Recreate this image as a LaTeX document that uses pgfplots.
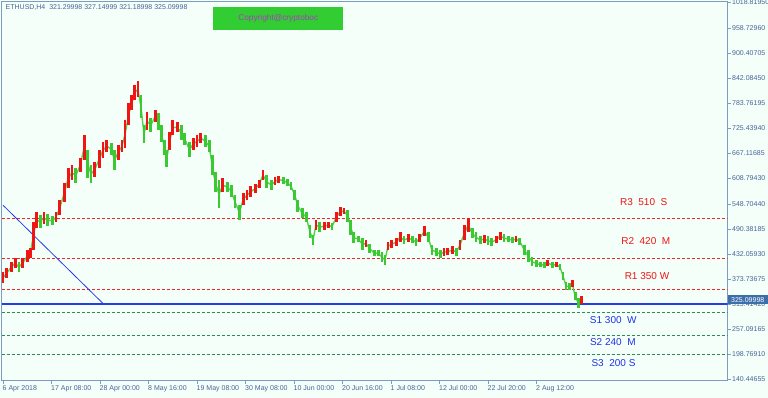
\documentclass[border=0pt]{standalone}
\usepackage{fontspec}
\setmainfont{Liberation Sans}
\usepackage{pgfplots}
\pgfplotsset{compat=1.18}
\usepackage{pgfplotstable}
\definecolor{bgc}{RGB}{245,255,250}
\definecolor{frame}{RGB}{125,155,195}
\definecolor{lbl}{RGB}{70,100,150}
\definecolor{cred}{RGB}{240,20,20}
\definecolor{cgreen}{RGB}{60,200,50}
\definecolor{rline}{RGB}{235,40,40}
\definecolor{gline}{RGB}{46,139,87}
\definecolor{bline}{RGB}{40,60,230}
\definecolor{boxg}{RGB}{50,205,50}
\definecolor{copyc}{RGB}{170,60,190}
\definecolor{pricebox}{RGB}{60,110,170}
\definecolor{rtxt}{RGB}{240,20,20}
\definecolor{stxt}{RGB}{30,50,230}

\pgfplotstableread{
i h l d
0 390.2 364.6 1
5 399.5 376.2 1
11 413.5 390.2 1
16 422.8 399.5 1
21 413.5 390.2 0
26 422.8 399.5 1
32 441.4 413.5 1
36 446.1 422.8 1
40 506.6 441.4 1
44 529.9 492.6 1
49 522.9 492.6 0
54 529.9 502.0 1
59 525.3 497.3 0
65 520.6 499.6 0
70 529.9 506.6 1
75 557.9 522.9 1
81 597.4 553.2 1
86 632.4 585.8 1
91 639.4 604.4 1
96 632.4 597.4 0
102 655.6 623.0 1
107 709.2 651.0 1
112 674.3 609.1 0
116 639.4 597.4 0
121 646.3 611.4 1
127 674.3 632.4 1
132 692.9 655.6 1
137 697.6 669.6 1
143 690.6 662.7 0
147 674.3 627.7 0
152 686.0 651.0 1
157 697.6 669.6 1
161 744.1 678.9 1
166 783.6 732.5 1
170 802.3 767.4 1
174 825.6 790.7 1
178 834.9 797.6 1
182 802.3 748.7 0
186 732.5 690.6 0
190 762.7 720.9 1
195 748.7 716.2 0
201 767.4 739.4 1
205 760.4 720.9 0
209 732.5 692.9 0
213 697.6 662.7 0
216 674.3 634.7 0
220 716.2 674.3 1
224 744.1 709.2 1
230 739.4 716.2 1
235 732.5 697.6 0
240 713.8 686.0 0
246 692.9 657.9 0
251 702.2 674.3 1
256 709.2 681.2 1
261 713.8 690.6 1
267 709.2 681.2 0
272 697.6 669.6 0
276 662.7 616.0 0
280 623.0 576.5 0
285 604.4 539.2 0
290 609.1 576.5 1
296 599.8 576.5 0
301 592.8 564.8 0
306 569.5 539.2 0
312 546.2 511.3 0
317 574.1 546.2 1
322 581.1 557.9 1
327 590.4 564.8 1
333 595.1 574.1 1
338 604.4 585.8 1
343 627.7 604.4 1
348 616.0 585.8 0
354 604.4 581.1 0
359 611.4 592.8 1
364 613.7 597.4 1
370 611.4 595.1 0
375 606.7 590.4 0
380 599.8 581.1 0
385 581.1 557.9 0
389 557.9 529.9 0
395 539.2 515.9 0
400 529.9 506.6 0
405 499.6 469.4 0
409 476.4 453.1 0
413 511.3 488.0 1
418 506.6 483.3 0
424 506.6 488.0 1
429 506.6 492.6 1
434 504.3 488.0 0
440 529.9 506.6 1
445 541.6 520.6 1
450 539.2 525.3 1
455 534.6 506.6 0
459 511.3 476.4 0
463 483.3 457.7 0
469 474.0 460.0 0
474 469.4 441.4 0
479 464.7 448.4 1
484 455.4 434.4 0
490 441.4 427.5 0
495 441.4 427.5 0
500 436.7 413.5 0
504 429.8 406.5 0
508 460.0 441.4 1
513 464.7 446.1 1
519 469.4 450.7 1
524 483.3 460.0 1
529 474.0 455.4 0
535 478.7 460.0 1
540 474.0 457.7 0
545 469.4 450.7 0
550 478.7 460.0 1
556 497.3 474.0 1
561 483.3 460.0 0
566 453.1 429.8 0
572 446.1 427.5 0
577 441.4 422.8 0
582 446.1 427.5 1
587 446.1 429.8 1
593 450.7 432.1 1
598 446.1 427.5 0
603 464.7 441.4 1
609 499.6 464.7 1
614 515.9 483.3 1
619 492.6 469.4 0
624 483.3 460.0 0
630 474.0 455.4 0
635 476.4 457.7 1
640 474.0 453.1 0
645 469.4 450.7 0
651 474.0 457.7 1
656 483.3 464.7 1
661 478.7 460.0 0
667 474.0 460.0 0
672 471.7 457.7 0
677 474.0 460.0 1
682 469.4 453.1 0
688 453.1 429.8 0
693 441.4 413.5 0
698 425.1 404.2 0
704 418.2 401.9 0
709 413.5 401.9 0
714 413.5 399.5 0
719 418.2 404.2 1
725 413.5 399.5 0
730 413.5 401.9 1
735 408.9 394.9 0
739 390.2 371.6 0
743 367.0 348.3 0
747 364.6 348.3 0
751 371.6 355.3 1
755 343.6 325.1 0
759 329.7 306.4 0
763 334.4 315.7 1
}\candles

\begin{document}
\begin{tikzpicture}
\fill[bgc] (0,0) rectangle (768bp,398bp);
\useasboundingbox (0,0) rectangle (768bp,398bp);
\begin{axis}[
  at={(1.5bp,17bp)}, anchor=south west,
  scale only axis, width=726bp, height=379.5bp,
  xmin=-2, xmax=956, ymin=136.5, ymax=1020.7,
  axis line style={frame, line width=1bp},
  tick align=outside, major tick length=3bp,
  tick style={frame, line width=0.8bp},
  xtick pos=left, ytick pos=right, yticklabel pos=right,
  xtick={0,64,128,192,256,320,384,448,512,576,640,704},
  xticklabels={6 Apr 2018,17 Apr 08:00,28 Apr 00:00,8 May 16:00,19 May 08:00,30 May 08:00,10 Jun 00:00,20 Jun 16:00,1 Jul 08:00,12 Jul 00:00,22 Jul 20:00,2 Aug 12:00},
  ytick={140.44655,198.7691,257.09165,315.4142,373.73675,432.0593,490.38185,548.7044,608.7943,667.11685,725.4394,783.76195,842.0845,900.40705,958.7296,1018.8195},
  yticklabels={140.44655,198.76910,257.09165,315.41420,373.73675,432.05930,490.38185,548.70440,608.79430,667.11685,725.43940,783.76195,842.08450,900.40705,958.72960,1018.81950},
  ticklabel style={font=\fontsize{7bp}{8bp}\selectfont, text=lbl, inner sep=0pt},
  xticklabel style={anchor=north west, xshift=-0.5bp, yshift=-1.5bp},
  yticklabel style={anchor=west, xshift=1.5bp},
  axis background/.style={fill=bgc},
  clip=true,
]
\addplot[rline, dash pattern=on 3bp off 2bp, line width=0.9bp] coordinates {(-2,515) (956,515)};
\addplot[rline, dash pattern=on 3bp off 2bp, line width=0.9bp] coordinates {(-2,421) (956,421)};
\addplot[rline, dash pattern=on 3bp off 2bp, line width=0.9bp] coordinates {(-2,350) (956,350)};
\addplot[gline, dash pattern=on 3bp off 2bp, line width=0.9bp] coordinates {(-2,296) (956,296)};
\addplot[gline, dash pattern=on 3bp off 2bp, line width=0.9bp] coordinates {(-2,242) (956,242)};
\addplot[gline, dash pattern=on 3bp off 2bp, line width=0.9bp] coordinates {(-2,199.5) (956,199.5)};
\addplot[bline, line width=1.1bp] coordinates {(-2,316) (956,316)};
\addplot[bline, line width=0.8bp] coordinates {(0,546) (132,317)};
\addplot[cgreen!85, line width=1.4bp, mark=none]
  table[x=i, y expr=(\thisrow{h}+\thisrow{l})/2] {\candles};
\addplot[draw=none, mark=none, restrict expr to domain={\thisrow{d}}{-0.5:0.5},
  error bars/.cd, y dir=both, y explicit, error mark=none,
  error bar style={cgreen, line width=2.8bp}]
  table[x=i, y expr=(\thisrow{h}+\thisrow{l})/2, y error expr=(\thisrow{h}-\thisrow{l})/2] {\candles};
\addplot[draw=none, mark=none, restrict expr to domain={\thisrow{d}}{0.5:1.5},
  error bars/.cd, y dir=both, y explicit, error mark=none,
  error bar style={cred, line width=2.8bp}]
  table[x=i, y expr=(\thisrow{h}+\thisrow{l})/2, y error expr=(\thisrow{h}-\thisrow{l})/2] {\candles};
\end{axis}
% annotations (pixel positions measured from the reference)
\node[anchor=west, inner sep=0pt, text=lbl, font=\fontsize{7bp}{8bp}\selectfont] at (5.5bp,390.7bp) {ETHUSD,H4\ \ 321.29998 327.14999 321.18998 325.09998};
\fill[boxg] (213.3bp,391.3bp) rectangle (343.3bp,368bp);
\node[inner sep=0pt, text=copyc, font=\fontsize{8.3bp}{9bp}\selectfont] at (278.3bp,379.6bp) {Copyright@cryptoboc};
\begin{scope}[every node/.style={inner sep=0pt, font=\fontsize{10bp}{12bp}\selectfont}]
\node[text=rtxt] at (643.7bp,196.3bp) {R3\ \ 510\ \ S};
\node[text=rtxt] at (645.8bp,157bp) {R2\ \ 420\ \ M};
\node[text=rtxt] at (647bp,122bp) {R1 350 W};
\node[text=stxt] at (613.3bp,78bp) {S1 300\ \ W};
\node[text=stxt] at (612.8bp,55.7bp) {S2 240\ \ M};
\node[text=stxt] at (613.5bp,35bp) {S3\ \ 200 S};
\end{scope}
\fill[pricebox] (727.5bp,102.5bp) rectangle (768bp,93.5bp);
\node[anchor=west, inner sep=0pt, text=white, font=\fontsize{7bp}{8bp}\selectfont] at (731bp,98bp) {325.09998};
\end{tikzpicture}
\end{document}
